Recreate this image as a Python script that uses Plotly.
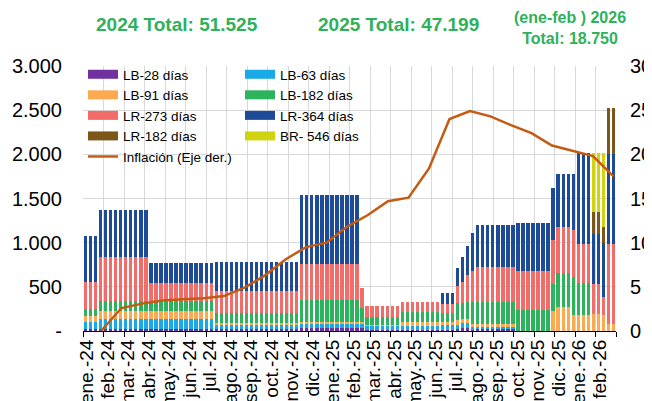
import numpy as np
import plotly.graph_objects as go

# ---------------- data ----------------
month_labels = ["ene.-24", "feb.-24", "mar.-24", "abr.-24", "may.-24", "jun.-24", "jul.-24",
                "ago.-24", "sep.-24", "oct.-24", "nov.-24", "dic.-24", "ene.-25", "feb.-25",
                "mar.-25", "abr.-25", "may.-25", "jun.-25", "jul.-25", "ago.-25", "sep.-25",
                "oct.-25", "nov.-25", "dic.-25", "ene.-26", "feb.-26"]

# weekly auctions, stored as runs of identical weeks (number of weeks per run)
run_weeks = [3, 10, 13, 17, 12, 1, 7, 8, 3, 1, 1, 1, 1, 8, 7, 1, 3, 1, 3, 2, 1, 2]

# amount per instrument for each run
lb28  = [19, 19, 19, 19, 30, 30, 11, 11, 11, 20, 30, 30, 20, 20, 0, 0, 0, 0, 0, 0, 0, 0]
lb63  = [87, 117, 117, 45, 49, 49, 50, 49, 57, 48, 57, 57, 22, 30, 0, 0, 0, 0, 0, 0, 0, 0]
lb91  = [68, 94, 94, 30, 27, 27, 10, 45, 38, 57, 49, 49, 33, 25, 0, 227, 275, 185, 185, 189, 180, 80]
lb182 = [75, 110, 110, 106, 245, 151, 91, 106, 94, 188, 177, 196, 257, 250, 238, 302, 385, 430, 355, 0, 0, 0]
lr273 = [309, 494, 200, 257, 407, 234, 121, 121, 102, 196, 245, 302, 347, 403, 445, 500, 520, 530, 445, 343, 210, 910]
lr364 = [521, 536, 226, 328, 782, 0, 0, 0, 132, 201, 277, 329, 427, 472, 537, 587, 595, 630, 1025, 562, 610, 1015]
lr182 = [0, 0, 0, 0, 0, 0, 0, 0, 0, 0, 0, 0, 0, 0, 0, 0, 0, 0, 0, 257, 180, 520]
br546 = [0, 0, 0, 0, 0, 0, 0, 0, 0, 0, 0, 0, 0, 0, 0, 0, 0, 0, 0, 660, 830, 0]

# monthly inflation (right axis), one value per month from feb.-24 to the end
inflacion = [0, 2.6, 3.1, 3.45, 3.6, 3.7, 3.95, 4.9, 6.3, 8.1, 9.5, 10.0, 11.8, 13.1,
             14.7, 15.1, 18.4, 24.0, 24.9, 24.3, 23.3, 22.4, 21.0, 20.4, 19.8, 17.5]

titles = ["2024 Total: 51.525", "2025 Total: 47.199", "(ene-feb ) 2026<br>Total: 18.750"]

# ---------------- build ----------------
series = [
    ("LB-28 días", lb28, "#7030A0"),
    ("LB-63 días", lb63, "#18A9E6"),
    ("LB-91 días", lb91, "#FBAA52"),
    ("LB-182 días", lb182, "#2DB35D"),
    ("LR-273 días", lr273, "#F26C6A"),
    ("LR-364 días", lr364, "#1D4B97"),
    ("LR-182 días", lr182, "#7D561A"),
    ("BR- 546 días", br546, "#D2D310"),
]
# the page body has an 8px margin: figure drawn at (8, 8) of the 652x401 window
OFF = 8
W, H = 652 - OFF, 401 - OFF
PL, PT, PR, PB = 83, 66, 616, 331          # plot area in window pixels
ML, MT = PL - OFF, PT - OFF
MR, MB = W - (PR - OFF), H - (PB - OFF)
PW, PH = PR - PL, PB - PT

n_weeks = int(np.sum(run_weeks))
x_weeks = np.arange(n_weeks)
n_months = len(month_labels)
week_per_month = n_weeks / n_months
month_edges = -0.5 + np.arange(n_months + 1) * week_per_month
label_pos = month_edges[:-1] + 0.8
line_x = month_edges[1:] - 0.5

FONT = "Liberation Sans, Arial, sans-serif"
GREEN = "#2EB15B"

fig = go.Figure()
for name, vals, col in series:
    fig.add_trace(go.Bar(x=x_weeks, y=np.repeat(vals, run_weeks), name=name,
                         marker=dict(color=col, line=dict(width=0)), showlegend=False))

fig.add_trace(go.Scatter(x=line_x, y=inflacion, yaxis="y2", mode="lines",
                         line=dict(color="#C55A11", width=2.5), showlegend=False))

# legend entries (two columns)
legend_cols = {"legend": ["LB-28 días", "LB-91 días", "LR-273 días", "LR-182 días"],
               "legend2": ["LB-63 días", "LB-182 días", "LR-364 días", "BR- 546 días"]}
colors = {n: c for n, _, c in series}
for lg, names in legend_cols.items():
    for nm in names:
        fig.add_trace(go.Scatter(x=[None], y=[None], mode="lines", name=nm, legend=lg,
                                 line=dict(color=colors[nm], width=9)))
fig.add_trace(go.Scatter(x=[None], y=[None], mode="lines", name="Inflación (Eje der.)",
                         legend="legend", line=dict(color="#C55A11", width=2.5)))


def px_x(p):  # window pixel -> paper x
    return (p - PL) / PW


def px_y(p):  # window pixel -> paper y
    return 1 - (p - PT) / PH


legend_style = dict(font=dict(family=FONT, size=13.5, color="#000"), bgcolor="rgba(0,0,0,0)",
                    orientation="v", yanchor="top", xanchor="left", tracegroupgap=0,
                    itemwidth=30, traceorder="normal")
fig.update_layout(
    width=W, height=H,
    margin=dict(l=ML, r=MR, t=MT, b=MB, autoexpand=False),
    paper_bgcolor="white", plot_bgcolor="white",
    barmode="stack", bargap=0.33,
    font=dict(family=FONT, size=19, color="#000"),
    legend=dict(x=px_x(83), y=px_y(59), **legend_style),
    legend2=dict(x=px_x(240), y=px_y(59), **legend_style),
    xaxis=dict(range=[-0.5, n_weeks - 0.5], tickmode="array", tickvals=label_pos,
               ticktext=month_labels, tickangle=-90, ticks="", showgrid=False,
               showline=True, linecolor="#000", linewidth=1, zeroline=False,
               tickfont=dict(size=19),
               minor=dict(tickmode="array", tickvals=month_edges, ticks="outside",
                          ticklen=5, tickcolor="#000", showgrid=True,
                          gridcolor="#D9D9D9", gridwidth=1)),
    yaxis=dict(range=[0, 3000], tickmode="array", tickvals=list(range(0, 3001, 500)),
               ticktext=["-", "500", "1.000", "1.500", "2.000", "2.500", "3.000"],
               showgrid=True, gridcolor="#D9D9D9", zeroline=False, ticks="",
               ticklabelstandoff=20, tickfont=dict(size=20)),
    yaxis2=dict(range=[0, 30], overlaying="y", side="right", tickmode="array",
                tickvals=list(range(0, 31, 5)), showgrid=False, zeroline=False,
                ticks="", ticklabelstandoff=13, tickfont=dict(size=20)),
)

title_pos = [(177, 24, 19), (398, 24, 19), (570, 28, 16)]
for txt, (xp, yp, fs) in zip(titles, title_pos):
    fig.add_annotation(text="<b>" + txt + "</b>", xref="paper", yref="paper",
                       x=px_x(xp), y=px_y(yp),
                       xanchor="center", yanchor="middle", showarrow=False,
                       font=dict(family=FONT, size=fs, color=GREEN))

fig.write_html("out.html")
